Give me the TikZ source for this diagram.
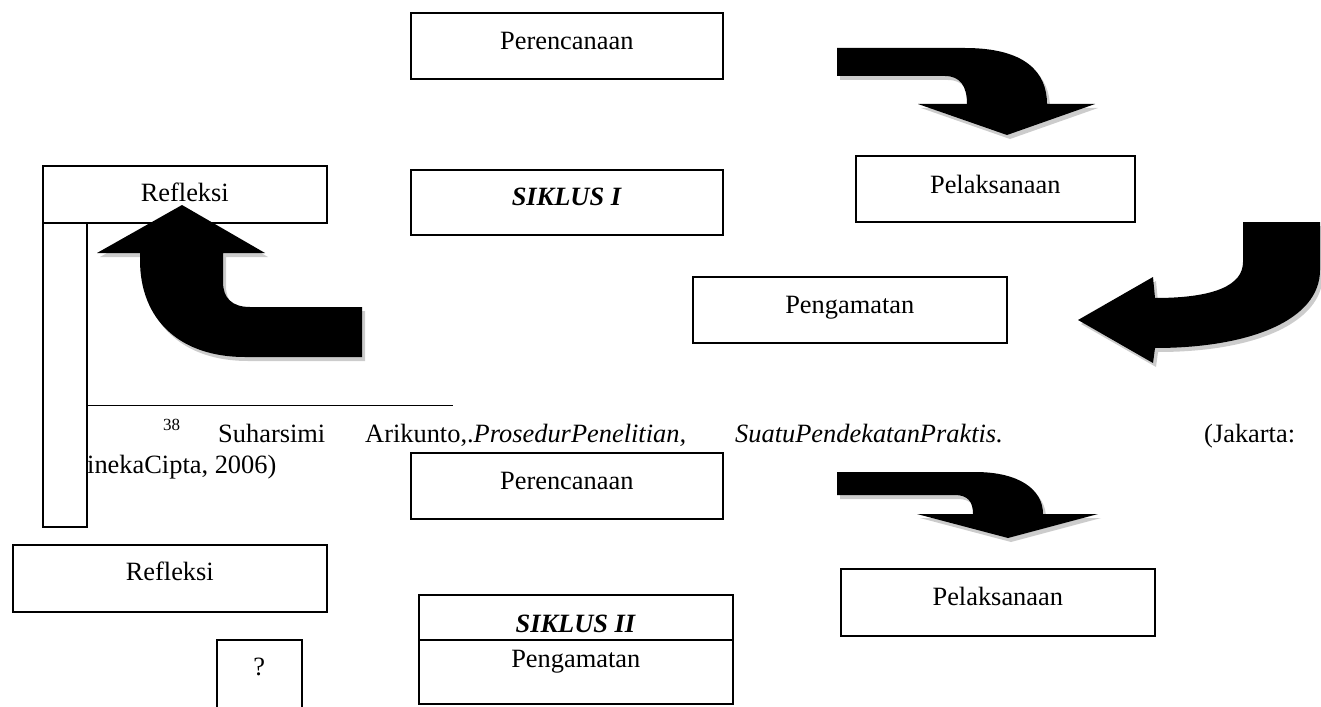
\documentclass[tikz,border=0pt]{standalone}
\usepackage{fontspec}
\setmainfont{Liberation Serif}
\usetikzlibrary{shadows,positioning}

\begin{document}
\begin{tikzpicture}[x=1pt,y=-1pt,
    box/.style={draw, fill=white, line width=1.6pt, inner sep=0pt, anchor=north west},
    lbl/.style={anchor=base, inner sep=0pt, font=\fontsize{26.4}{30}\selectfont},
    note/.style={anchor=base west, inner sep=0pt, font=\fontsize{26.4}{30}\selectfont},
    bigarrow/.style={fill=black, drop shadow={shadow xshift=3pt, shadow yshift=-4pt, fill=gray!40, opacity=1}}]

  \useasboundingbox (0,0) rectangle (1321,706);

  % footnote
  \draw[line width=1pt] (86,405) -- (453,405);
  \node[note, font=\fontsize{17}{20}\selectfont] (fnum) at (163,430) {38};
  \node[note] (fn1) at (218,442) {Suharsimi};
  \node[note] (fn2) at (365,442) {Arikunto,.\textit{ProsedurPenelitian,}};
  \node[note] (fn3) at (735,442) {\textit{SuatuPendekatanPraktis.}};
  \node[note] (fn4) at (1204,442) {(Jakarta:};
  \node[note] (fn5) at (87,473) {inekaCipta, 2006)};

  % siklus I
  \node[box, minimum width=44pt, minimum height=304pt] (side) at (42,222) {};
  \node[box, minimum width=312pt, minimum height=66pt] (ren1) at (410,12) {};
  \node[box, minimum width=312pt, minimum height=65pt] (sik1) at (410,169) {};
  \node[box, minimum width=279pt, minimum height=66pt] (pel1) at (855,155) {};
  \node[box, minimum width=314pt, minimum height=66pt] (pen1) at (692,276) {};
  \node[box, minimum width=284pt, minimum height=57pt] (ref1) at (42,165) {};

  % siklus II
  \node[box, minimum width=312pt, minimum height=66pt] (ren2) at (410,452) {};
  \node[box, minimum width=314pt, minimum height=67pt] (ref2) at (12,544) {};
  \node[box, minimum width=314pt, minimum height=67pt] (pel2) at (840,568) {};
  \node[box, minimum width=314pt, minimum height=45pt] (sik2) at (418,594) {};
  \node[box, minimum width=314pt, minimum height=64pt] (pen2) at (418,639) {};
  \node[box, minimum width=85pt, minimum height=72pt] (ask) at (216,639) {};

  % arrows
  \path[bigarrow] (837,48) -- (965,48) .. controls (1025,48) and (1047,72) .. (1047,104)
    -- (1095,104) -- (1007,135) -- (918,104) -- (967,104)
    .. controls (967,86) and (960,76) .. (945,76) -- (837,76) -- cycle;
  \path[bigarrow] (1243,222) -- (1320,222) -- (1320,270)
    .. controls (1320,320) and (1250,348) .. (1155,348)
    -- (1153,363) -- (1078,320) -- (1153,277) -- (1155,298)
    .. controls (1215,298) and (1243,285) .. (1243,262) -- cycle;
  \path[bigarrow] (182,205) -- (265,253) -- (223,253) -- (223,282)
    .. controls (223,298) and (232,307) .. (250,307) -- (362,307) -- (362,357)
    -- (245,357) .. controls (180,357) and (140,320) .. (140,260)
    -- (140,253) -- (97,253) -- cycle;
  \path[bigarrow] (837,472) -- (975,472) .. controls (1020,472) and (1043,490) .. (1043,514)
    -- (1098,514) -- (1008,538) -- (917,514) -- (973,514)
    .. controls (973,502) and (968,495) .. (955,495) -- (837,495) -- cycle;

  % labels
  \node[lbl] (ren1t) at ([yshift=-38pt]ren1.north) {Perencanaan};
  \node[lbl] (sik1t) at ([yshift=-36pt]sik1.north) {\textbf{\textit{SIKLUS I}}};
  \node[lbl] (pel1t) at ([yshift=-38pt]pel1.north) {Pelaksanaan};
  \node[lbl] (pen1t) at ([yshift=-37pt]pen1.north) {Pengamatan};
  \node[lbl] (ref1t) at ([yshift=-36pt]ref1.north) {Refleksi};
  \node[lbl] (ren2t) at ([yshift=-37pt]ren2.north) {Perencanaan};
  \node[lbl] (ref2t) at ([yshift=-36pt]ref2.north) {Refleksi};
  \node[lbl] (pel2t) at ([yshift=-37pt]pel2.north) {Pelaksanaan};
  \node[lbl] (sik2t) at ([yshift=-38pt]sik2.north) {\textbf{\textit{SIKLUS II}}};
  \node[lbl] (pen2t) at ([yshift=-28pt]pen2.north) {Pengamatan};
  \node[lbl] (askt) at ([yshift=-36pt]ask.north) {?};
\end{tikzpicture}
\end{document}
